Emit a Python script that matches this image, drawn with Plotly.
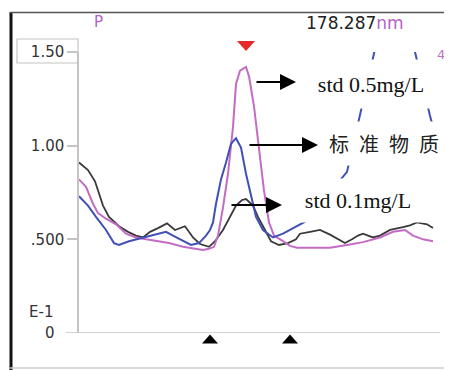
import plotly.graph_objects as go

# ---- data (channel position along the wavelength window, absorbance) ----
black_x = [79, 88, 95, 103, 109, 119, 128, 136, 143, 150, 158, 167, 175, 185, 193, 200, 209, 215, 223,
           230, 236, 242, 246, 253, 258, 263, 271, 279, 288, 296, 300, 310, 320, 330, 338, 345, 352,
           358, 363, 368, 373, 380, 390, 403, 410, 417, 427, 433]
black_y = [0.91, 0.87, 0.81, 0.68, 0.62, 0.57, 0.54, 0.52, 0.51, 0.54, 0.56, 0.585, 0.55, 0.57, 0.51,
           0.475, 0.46, 0.49, 0.55, 0.62, 0.68, 0.71, 0.715, 0.68, 0.62, 0.57, 0.49, 0.47, 0.48, 0.50,
           0.53, 0.54, 0.55, 0.525, 0.50, 0.48, 0.50, 0.52, 0.53, 0.52, 0.51, 0.52, 0.55, 0.565, 0.575,
           0.59, 0.58, 0.56]

magenta_x = [79, 86, 93, 98, 106, 116, 126, 136, 146, 156, 169, 183, 193, 203, 209, 214, 218, 223, 228,
             233, 236, 240, 246, 249, 254, 259, 264, 269, 274, 283, 290, 297, 313, 330, 347, 363, 380,
             393, 405, 413, 423, 433]
magenta_y = [0.82, 0.78, 0.69, 0.64, 0.61, 0.58, 0.53, 0.51, 0.50, 0.49, 0.48, 0.46, 0.45, 0.443, 0.45,
             0.46, 0.52, 0.67, 0.85, 1.10, 1.33, 1.40, 1.42, 1.37, 1.21, 0.98, 0.76, 0.59, 0.52, 0.49,
             0.465, 0.455, 0.455, 0.455, 0.47, 0.485, 0.51, 0.54, 0.55, 0.52, 0.50, 0.49]

blue_x = [79, 88, 96, 106, 114, 119, 129, 143, 159, 166, 173, 183, 191, 199, 206, 210, 213, 216, 221,
          226, 231, 236, 241, 246, 251, 256, 263, 273, 283, 293, 300, 307, 347, 360, 375, 385, 405,
          415, 430, 433]
blue_y = [0.73, 0.68, 0.62, 0.55, 0.48, 0.47, 0.49, 0.51, 0.53, 0.54, 0.52, 0.49, 0.47, 0.48, 0.52,
          0.55, 0.59, 0.69, 0.82, 0.91, 1.01, 1.04, 0.99, 0.85, 0.73, 0.62, 0.55, 0.51, 0.53, 0.56,
          0.58, 0.60, 0.86, 1.16, 1.50, 1.75, 1.75, 1.50, 1.16, 1.10]

peak_marker_x = [246]
window_marker_x = [210, 290]

tick_vals = [0.5, 1.0, 1.5]
tick_text = [".500", "1.00", "1.50"]

labels = ["std 0.5mg/L", "标\u2002准\u2002物\u2002质", "std 0.1mg/L"]

# page has an 8px body margin: the figure is drawn 8px in from the window corner
OFF = 8
W, H = 452 - OFF, 370 - OFF
def px(x):
    return (x - OFF) / W
def py(y):
    return 1 - (y - OFF) / H

fig = go.Figure()
fig.add_trace(go.Scatter(x=black_x, y=black_y, mode="lines",
                         line=dict(color="#3a3a3a", width=1.8), showlegend=False))
fig.add_trace(go.Scatter(x=magenta_x, y=magenta_y, mode="lines",
                         line=dict(color="#c46cc4", width=2), showlegend=False))
fig.add_trace(go.Scatter(x=blue_x, y=blue_y, mode="lines",
                         line=dict(color="#4050b4", width=2), showlegend=False))

fig.update_layout(
    template="none",
    width=W, height=H, autosize=False,
    margin=dict(l=0, r=0, t=0, b=0, pad=0, autoexpand=False),
    paper_bgcolor="white", plot_bgcolor="white",
    xaxis=dict(domain=[px(79), px(440)], range=[79, 440], visible=False, automargin=False),
    yaxis=dict(domain=[py(333), py(52)], range=[0, 1.5], showgrid=False, zeroline=False,
               automargin=False,
               showline=True, linecolor="#c4c4c4", linewidth=1.5,
               ticks="outside", ticklen=10, tickcolor="#c4c4c4", tickwidth=1.5,
               tickvals=tick_vals, ticktext=tick_text,
               tickfont=dict(family="DejaVu Sans", size=15, color="#333333")),
)

def tri(xc, yc, w, h, down):
    # triangle path: x in data units, y in paper units
    hy = h / H
    if down:
        return f"M {xc - w/2} {yc + hy/2} L {xc + w/2} {yc + hy/2} L {xc} {yc - hy/2} Z"
    return f"M {xc - w/2} {yc - hy/2} L {xc + w/2} {yc - hy/2} L {xc} {yc + hy/2} Z"

shapes = [
    # outer frame
    dict(type="line", xref="paper", yref="paper", x0=px(11), x1=px(11), y0=py(12), y1=0,
         line=dict(color="#111111", width=3)),
    dict(type="line", xref="paper", yref="paper", x0=px(10), x1=1, y0=py(12.5), y1=py(12.5),
         line=dict(color="#555555", width=1.5)),
    dict(type="line", xref="paper", yref="paper", x0=px(10), x1=1, y0=py(368), y1=py(368),
         line=dict(color="#cccccc", width=1.5)),
    # zero baseline
    dict(type="line", xref="paper", yref="y", x0=px(66), x1=px(440), y0=0, y1=0,
         line=dict(color="#c4c4c4", width=1.5)),
    # box around 1.50 label
    dict(type="rect", xref="paper", yref="paper", x0=px(17), x1=px(78), y0=py(63), y1=py(39),
         line=dict(color="#c4c4c4", width=1.2)),
]
for xm in peak_marker_x:
    shapes.append(dict(type="path", xref="x", yref="paper", path=tri(xm, py(46), 18, 10, True),
                       fillcolor="#e82828", line=dict(width=0)))
for xm in window_marker_x:
    shapes.append(dict(type="path", xref="x", yref="paper", path=tri(xm, py(339), 16, 9, False),
                       fillcolor="#000000", line=dict(width=0)))
fig.update_layout(shapes=shapes)

ann = []
def note(x, y, text, size, color, family="DejaVu Sans", xanchor="center", **kw):
    ann.append(dict(xref="paper", yref="paper", x=px(x), y=py(y), xanchor=xanchor, yanchor="middle",
                    text=text, showarrow=False, font=dict(family=family, size=size, color=color), **kw))

# header texts
note(98, 22, "P", 15, "#b462c4")
note(304, 23, "178.287<span style='color:#b462c4'>nm</span>", 17, "#222222", xanchor="left")
note(441, 54, "4", 13, "#c070c8")
note(41, 312, "E-1", 15, "#333333")
note(50, 333, "0", 15, "#333333")

# white label boxes
note(371, 84, labels[0], 22, "#111111", family="Liberation Serif",
     width=148, height=48, bgcolor="white", borderpad=0)
note(384, 143.5, labels[1], 20, "#222222", family="Noto Sans CJK SC",
     width=122, height=43, bgcolor="white", borderpad=0)
note(358, 200, labels[2], 22, "#111111", family="Liberation Serif",
     width=136, height=43, bgcolor="white", borderpad=0)

# arrows
for hx, hy, tail in [(296, 82, 255), (318, 145, 248), (282, 205, 230)]:
    ann.append(dict(xref="x", yref="paper", x=hx, y=py(hy), ax=tail - hx, ay=0, text="",
                    showarrow=True, arrowhead=2, arrowsize=1.6, arrowwidth=2,
                    arrowcolor="#000000", standoff=0))
fig.update_layout(annotations=ann)

fig.write_html("out.html")
